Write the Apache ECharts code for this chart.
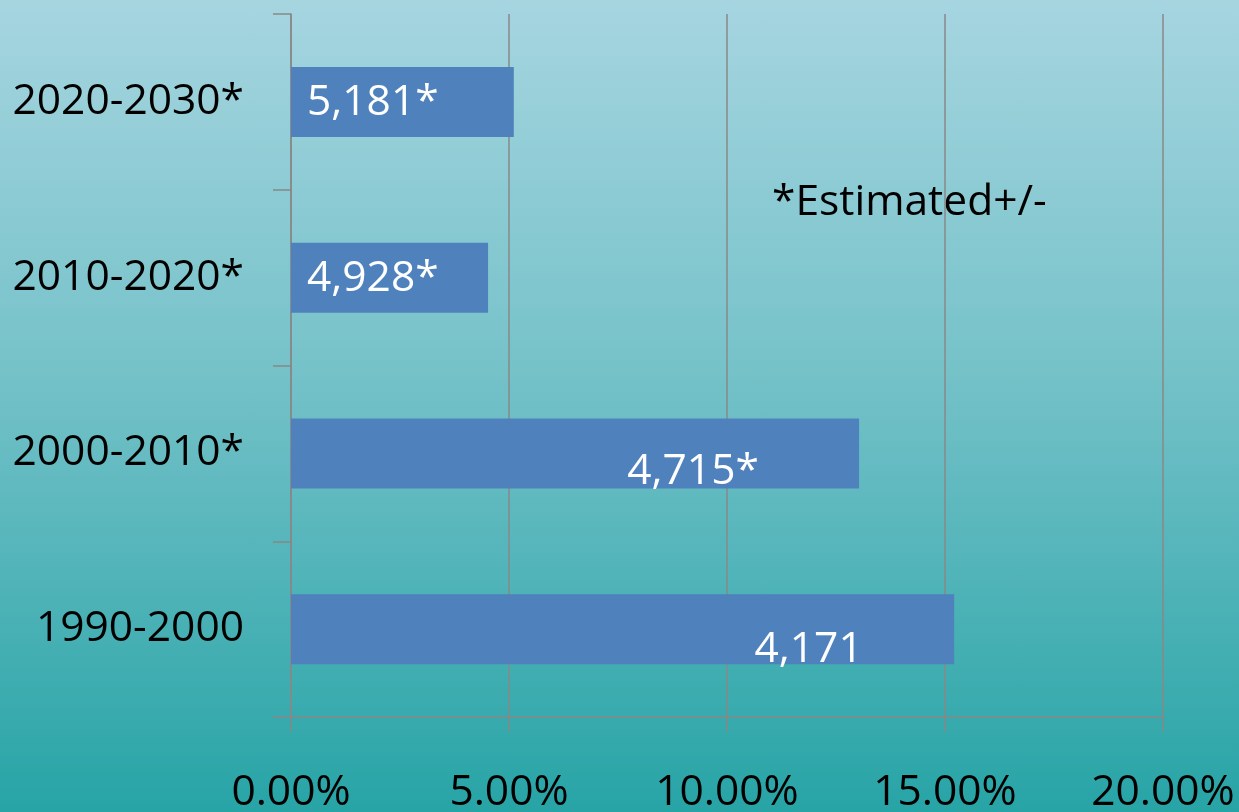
<!DOCTYPE html>
<html>
<head>
<meta charset="utf-8">
<script src="https://cdn.jsdelivr.net/npm/echarts@6/dist/echarts.min.js"></script>
<style>
html,body{margin:0;padding:0;overflow:hidden;}
#chart{width:1239px;height:812px;background:linear-gradient(to bottom,#a6d5e0 0%,#76c2c9 45%,#27a4a6 100%);}
</style>
</head>
<body>
<div id="chart"></div>
<script>
// Categories listed bottom-to-top (ECharts category y axis starts at bottom)
var categories = ['1990-2000', '2000-2010*', '2010-2020*', '2020-2030*'];
var values = [15.21, 13.03, 4.52, 5.11];
var barLabels = ['4,171', '4,715*', '4,928*', '5,181*'];
var xTicks = ['0.00%', '5.00%', '10.00%', '15.00%', '20.00%'];
var note = '*Estimated+/-';

// label placement (layout only)
var labelLayout = [
  {position: 'inside', offset: [186, 21]},
  {position: 'inside', offset: [118, 19]},
  {position: 'insideLeft', distance: 16, offset: [0, 1]},
  {position: 'insideLeft', distance: 16, offset: [0, 1]}
];

var FONT = '"Open Sans", "Noto Sans", sans-serif';
var FS = 42.5;
var chart = echarts.init(document.getElementById('chart'));
var data = values.map(function (v, i) {
  var lab = Object.assign({show: true, formatter: barLabels[i]}, labelLayout[i]);
  return {value: v, label: lab};
});

chart.setOption({
  backgroundColor: 'transparent',
  animation: false,
  grid: {left: 291, right: 76, top: 14, bottom: 95, containLabel: false, outerBoundsMode: 'none'},
  xAxis: {
    type: 'value', min: 0, max: 20, interval: 5,
    axisLine: {show: true, lineStyle: {color: '#888888', width: 1.5}},
    axisTick: {show: true, length: 15, lineStyle: {color: '#888888', width: 1.5}},
    splitLine: {show: true, lineStyle: {color: '#888888', width: 1.5}},
    axisLabel: {
      color: '#000', fontSize: FS, fontFamily: FONT, margin: 54,
      formatter: function (v) { return xTicks[Math.round(v / 5)]; }
    }
  },
  yAxis: {
    type: 'category', data: categories,
    axisLine: {show: true, lineStyle: {color: '#888888', width: 1.5}},
    axisTick: {show: true, length: 18, alignWithLabel: false, lineStyle: {color: '#888888', width: 1.5}},
    splitLine: {show: false},
    axisLabel: {color: '#000', fontSize: FS, fontFamily: FONT, margin: 47}
  },
  series: [{
    type: 'bar', data: data, barWidth: 70,
    itemStyle: {color: '#4f81bd'},
    label: {color: '#fff', fontSize: FS, fontFamily: FONT}
  }],
  graphic: [{
    type: 'text', left: 772, top: 181,
    style: {text: note, fill: '#000', font: FS + 'px ' + FONT}
  }]
});
</script>
</body>
</html>
